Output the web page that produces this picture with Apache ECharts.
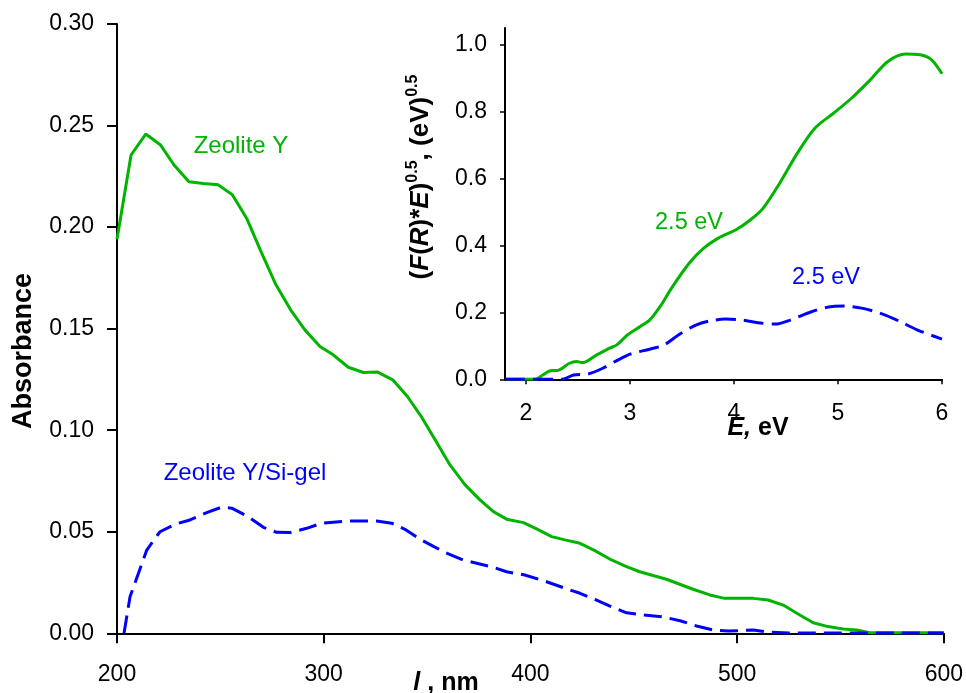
<!DOCTYPE html>
<html>
<head>
<meta charset="utf-8">
<script src="https://cdn.jsdelivr.net/npm/echarts@6/dist/echarts.min.js"></script>
<style>html,body{margin:0;padding:0;background:#fff}#c{width:966px;height:693px}</style>
</head>
<body>
<div id="c"></div>
<script>
// ---- Main chart: absorbance vs wavelength ----
var zyWl  = [200,206.8,213.9,221.1,227.5,234.8,241.8,249,255.8,262.7,270,276.9,284,290.9,298.2,304.6,311.9,319.2,326.1,333.4,340.5,347.4,354.4,361.1,368.4,375.6,382.1,388.5,396.6,403,410.3,416.7,424,431.2,439.2,446.5,452.9,465.8,478.7,486.8,494,507.8,515,522.3,529.5,536.8,544,551.3,557.8,564.2,580,600];
var zyAbs = [0.194,0.2355,0.2458,0.2404,0.2307,0.2223,0.2215,0.2208,0.2159,0.2044,0.1872,0.1716,0.1593,0.1494,0.1412,0.1371,0.1310,0.1284,0.1286,0.1248,0.1166,0.1064,0.0944,0.0829,0.0731,0.0657,0.0599,0.0562,0.0545,0.0514,0.0476,0.0460,0.0443,0.0407,0.0361,0.0328,0.0303,0.0266,0.0217,0.0189,0.0172,0.0172,0.0164,0.0139,0.0095,0.0052,0.0033,0.0021,0.0016,0.0003,0.0003,0.0003];
var zsWl  = [203.4,206.3,214.4,220.8,228.1,235.3,243.4,250.6,255.5,263.5,270.8,277.2,283.7,291.8,299,311.1,325.6,332.9,339.3,346.6,353.8,360.3,367.5,374,382.1,388.5,397.3,407.8,416.7,424,431.2,438.5,446.5,454.6,463.5,472.4,480.4,488.5,495.8,507.8,515.9,525,560,600];
var zsAbs = [0,0.018,0.041,0.050,0.0537,0.0558,0.0594,0.0621,0.0616,0.0574,0.0522,0.0497,0.0496,0.0517,0.0542,0.0553,0.0553,0.0542,0.0512,0.0463,0.0424,0.0391,0.0361,0.0345,0.0325,0.0303,0.0287,0.0254,0.0222,0.0197,0.0167,0.0134,0.0101,0.0090,0.0082,0.0062,0.0036,0.0016,0.0011,0.0016,0.0005,0.0002,0.0002,0.0002];
var mainYTicks = [0,0.05,0.10,0.15,0.20,0.25,0.30];
var mainXTicks = [200,300,400,500,600];

// ---- Inset: (F(R)*E)^0.5 vs E ----
var inGE = [1.8,2.094,2.163,2.25,2.30,2.42,2.49,2.545,2.667,2.806,2.875,2.979,3.10,3.19,3.29,3.41,3.57,3.71,3.85,4.02,4.16,4.28,4.44,4.61,4.78,4.96,5.13,5.31,5.48,5.65,5.79,5.90,6.0];
var inGV = [0,0,0.013,0.026,0.026,0.048,0.053,0.050,0.070,0.093,0.103,0.133,0.158,0.177,0.217,0.277,0.347,0.392,0.422,0.447,0.477,0.511,0.586,0.676,0.751,0.796,0.840,0.895,0.950,0.972,0.970,0.955,0.913];
var inBE = [1.8,2.35,2.46,2.60,2.74,2.875,3.01,3.19,3.33,3.47,3.64,3.78,3.92,4.09,4.23,4.40,4.54,4.72,4.89,5.06,5.24,5.41,5.58,5.76,6.0];
var inBV = [0,0,0.013,0.016,0.033,0.056,0.076,0.090,0.103,0.133,0.163,0.175,0.180,0.177,0.169,0.165,0.177,0.199,0.215,0.219,0.212,0.197,0.175,0.148,0.120];
var inYTicks = [0,0.2,0.4,0.6,0.8,1.0];
var inXTicks = [2,3,4,5,6];

var GREEN = '#00b400', BLUE = '#0000ff';
var FF = '"Liberation Sans", Arial, sans-serif';
function pairs(a,b){return a.map(function(v,i){return [v,b[i]];});}

var chart = echarts.init(document.getElementById('c'), null, {renderer:'canvas'});
var axisLine = {show:true, onZero:false, lineStyle:{color:'#000', width:2}};
var lblBase = {color:'#000', fontFamily:FF, fontSize:23};

chart.setOption({
  animation:false,
  backgroundColor:'#fff',
  grid:[
    {left:117, right:22, top:24, bottom:59.7},
    {left:505, right:24, top:28, bottom:313.7}
  ],
  xAxis:[
    {type:'value', gridIndex:0, min:200, max:600, interval:100,
     axisLine:axisLine, splitLine:{show:false},
     axisTick:{show:true, inside:false, length:10, lineStyle:{color:'#000', width:2}, customValues:mainXTicks},
     axisLabel:Object.assign({margin:30, customValues:mainXTicks}, lblBase)},
    {type:'value', gridIndex:1, min:1.8, max:6,
     axisLine:axisLine, splitLine:{show:false},
     axisTick:{show:true, length:5, lineStyle:{color:'#000', width:1.5}, customValues:inXTicks},
     axisLabel:Object.assign({margin:23, customValues:inXTicks}, lblBase)}
  ],
  yAxis:[
    {type:'value', gridIndex:0, min:0, max:0.30, interval:0.05,
     axisLine:axisLine, splitLine:{show:false},
     axisTick:{show:true, length:10, lineStyle:{color:'#000', width:2}, customValues:mainYTicks},
     axisLabel:Object.assign({margin:23, customValues:mainYTicks, formatter:function(v){return v.toFixed(2);}}, lblBase)},
    {type:'value', gridIndex:1, min:0, max:1.05,
     axisLine:axisLine, splitLine:{show:false},
     axisTick:{show:true, length:5, lineStyle:{color:'#000', width:1.5}, customValues:inYTicks},
     axisLabel:Object.assign({margin:18, customValues:inYTicks, formatter:function(v){return v.toFixed(1);}}, lblBase)}
  ],
  series:[
    {type:'line', xAxisIndex:0, yAxisIndex:0, data:pairs(zyWl,zyAbs), showSymbol:false, smooth:false,
     lineStyle:{color:GREEN, width:3}, z:3},
    {type:'line', xAxisIndex:0, yAxisIndex:0, data:pairs(zsWl,zsAbs), showSymbol:false, smooth:false,
     lineStyle:{color:BLUE, width:3, type:[18,8]}, z:4},
    {type:'line', xAxisIndex:1, yAxisIndex:1, data:pairs(inGE,inGV), showSymbol:false, smooth:0.3,
     lineStyle:{color:GREEN, width:3}, z:3},
    {type:'line', xAxisIndex:1, yAxisIndex:1, data:pairs(inBE,inBV), showSymbol:false, smooth:0.3,
     lineStyle:{color:BLUE, width:3, type:[20,8]}, z:4}
  ],
  graphic:[
    {type:'text', x:24, y:351, rotation:Math.PI/2,
     style:{text:'Absorbance', font:'bold 27px '+FF, fill:'#000', align:'center', verticalAlign:'middle'}},
    {type:'text', x:446, y:683,
     style:{text:'{i|l}{b| , nm}', align:'center', verticalAlign:'middle',
       rich:{i:{font:'italic bold 25px '+FF, fill:'#000'}, b:{font:'bold 25px '+FF, fill:'#000'}}}},
    {type:'text', x:758, y:428,
     style:{text:'{i|E,}{b| eV}', align:'center', verticalAlign:'middle',
       rich:{i:{font:'italic bold 25px '+FF, fill:'#000'}, b:{font:'bold 25px '+FF, fill:'#000'}}}},
    {type:'text', x:421, y:177, rotation:Math.PI/2,
     style:{text:'{b|(}{i|F}{b|(}{i|R}{b|)*}{i|E}{b|)}{s|0.5}{b|, (eV)}{s|0.5}', align:'center', verticalAlign:'middle',
       rich:{
         b:{font:'bold 26px '+FF, fill:'#000', lineHeight:33},
         i:{font:'italic bold 26px '+FF, fill:'#000', lineHeight:33},
         s:{font:'bold 16px '+FF, fill:'#000', verticalAlign:'top', lineHeight:33}
       }}},
    {type:'text', x:241, y:146,
     style:{text:'Zeolite Y', font:'24px '+FF, fill:GREEN, align:'center', verticalAlign:'middle'}},
    {type:'text', x:245, y:473,
     style:{text:'Zeolite Y/Si-gel', font:'24px '+FF, fill:BLUE, align:'center', verticalAlign:'middle'}},
    {type:'text', x:689, y:223,
     style:{text:'2.5 eV', font:'23.5px '+FF, fill:GREEN, align:'center', verticalAlign:'middle'}},
    {type:'text', x:826, y:278,
     style:{text:'2.5 eV', font:'23.5px '+FF, fill:BLUE, align:'center', verticalAlign:'middle'}}
  ]
});
</script>
</body>
</html>
